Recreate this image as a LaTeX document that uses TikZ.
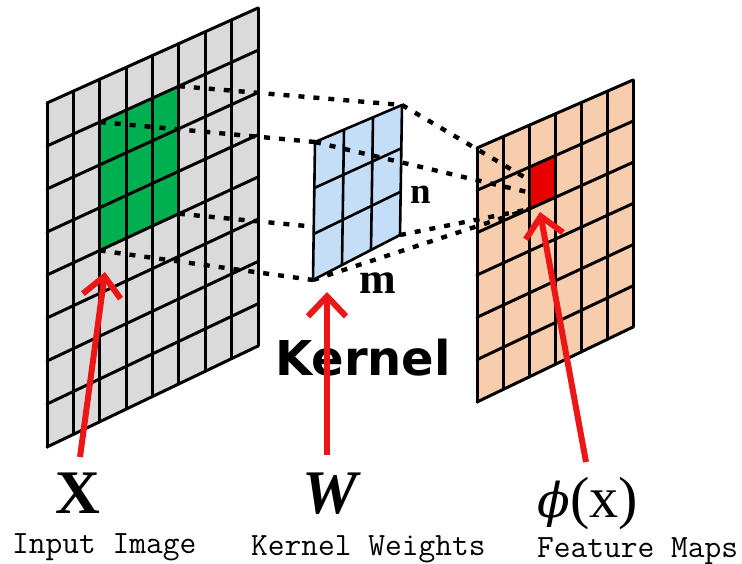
\documentclass[tikz,border=0pt]{standalone}
\usepackage{fontspec}
\usetikzlibrary{calc,arrows.meta}
\newfontfamily\kernelfont{DejaVu Sans}
\newfontfamily\serifbold{Liberation Serif}
\newfontfamily\phifont{DejaVu Serif}
\definecolor{ingray}{RGB}{218,218,218}
\definecolor{patchgreen}{RGB}{0,176,80}
\definecolor{kernblue}{RGB}{197,222,247}
\definecolor{featpeach}{RGB}{248,205,174}
\definecolor{cellred}{RGB}{232,0,0}
\definecolor{arrowred}{RGB}{236,22,22}
\newcommand\cellpt[5]{%
  \coordinate (#1a) at ($(#2TL)!#4!(#2BL)$);
  \coordinate (#1b) at ($(#2TR)!#4!(#2BR)$);
  \coordinate (#1) at ($(#1a)!#3!(#1b)$);}
\newcommand\gridlines[4]{%
  \foreach \i in {0,...,#2} \draw[gridline,line width=#4] ($(#1TL)!\i/#2!(#1TR)$) -- ($(#1BL)!\i/#2!(#1BR)$);
  \foreach \j in {0,...,#3} \draw[gridline,line width=#4] ($(#1TL)!\j/#3!(#1BL)$) -- ($(#1TR)!\j/#3!(#1BR)$);}
\tikzset{
  gridline/.style={draw=black,line cap=round},
  dotline/.style={draw=black,line width=4.4pt,dash pattern=on 6pt off 9pt},
  redarrow/.style={draw=arrowred,line width=6pt,-{Straight Barb[length=20pt,width=38pt]}},
  monolabel/.style={inner sep=0pt,font=\ttfamily\fontsize{32.5}{34}\selectfont},
}
\begin{document}
\begin{tikzpicture}[x=1pt,y=-1pt]
\useasboundingbox (0,0) rectangle (742,563);
\fill[white] (0,0) rectangle (742,563);
% corners
\coordinate (inTL) at (47,103);
\coordinate (inTR) at (258,8);
\coordinate (inBL) at (47,447);
\coordinate (inBR) at (258,346);
\coordinate (kTL) at (315,142);
\coordinate (kTR) at (402,105);
\coordinate (kBL) at (313,280);
\coordinate (kBR) at (400,235);
\coordinate (fTL) at (477,148);
\coordinate (fTR) at (633,80);
\coordinate (fBL) at (477,402);
\coordinate (fBR) at (633,327);
% patch corners
\cellpt{gTL}{in}{0.25}{0.125}{}
\cellpt{gTR}{in}{0.625}{0.125}{}
\cellpt{gBL}{in}{0.25}{0.5}{}
\cellpt{gBR}{in}{0.625}{0.5}{}
\cellpt{rTL}{f}{0.3333}{0.1667}{}
\cellpt{rTR}{f}{0.5}{0.1667}{}
\cellpt{rBL}{f}{0.3333}{0.3333}{}
\cellpt{rBR}{f}{0.5}{0.3333}{}
\coordinate (rE) at ($(rTL)!0.3!(rBL)$);
\coordinate (rF) at ($(rTL)!0.6!(rBL)$);
% input image
\fill[ingray] (inTL) -- (inTR) -- (inBR) -- (inBL) -- cycle;
\fill[patchgreen] (gTL) -- (gTR) -- (gBR) -- (gBL) -- cycle;
\gridlines{in}{8}{8}{3pt}
% feature map
\fill[featpeach] (fTL) -- (fTR) -- (fBR) -- (fBL) -- cycle;
\fill[cellred] (rTL) -- (rTR) -- (rBR) -- (rBL) -- cycle;
\gridlines{f}{6}{6}{3pt}
% dotted projections
\draw[dotline] (gTR) -- (kTR);
\draw[dotline] (gTL) -- (kTL);
\draw[dotline] (gBR) -- (kBR);
\draw[dotline] (gBL) -- (kBL);
\draw[dotline] (kTR) -- (rE);
\draw[dotline] (kBR) -- (rBL);
\draw[dotline] (kBL) -- (rBL);
% kernel
\fill[kernblue] (kTL) -- (kTR) -- (kBR) -- (kBL) -- cycle;
\gridlines{k}{3}{3}{2.6pt}
\draw[dotline] (kTL) -- (rF);
% texts
\node[inner sep=0pt,anchor=base,font=\serifbold\bfseries\fontsize{37}{40}\selectfont] (nlab) at (421,203) {n};
\node[inner sep=0pt,anchor=base,font=\serifbold\bfseries\fontsize{44}{46}\selectfont] (mlab) at (378,293) {m};
\node[inner sep=0pt,anchor=base west,font=\kernelfont\bfseries\fontsize{48}{50}\selectfont] (kern) at (275,375) {Kernel};
\node[inner sep=0pt,anchor=base,font=\serifbold\bfseries\fontsize{62}{64}\selectfont] (xlab) at (78,513) {X};
\node[inner sep=0pt,anchor=base,font=\serifbold\bfseries\itshape\fontsize{62}{64}\selectfont] (wlab) at (330,513) {W};
\node[inner sep=0pt,anchor=base,font=\serifbold\fontsize{58}{60}\selectfont] (phlab) at (588,517) {{\phifont\itshape\fontsize{48}{50}\selectfont ϕ}(x)};
\node[monolabel,anchor=base west] (inlab) at (12,553) {Input Image};
\node[monolabel,anchor=base west] (kwlab) at (251,555) {Kernel Weights};
\node[monolabel,anchor=base west] (fmlab) at (537,557) {Feature Maps};
% arrows
\coordinate (a1s) at (80,457);
\coordinate (a1e) at (105,272);
\coordinate (a2s) at (327,455);
\coordinate (a2e) at (327,292);
\coordinate (a3s) at (586,462);
\coordinate (a3e) at (540,212);
\draw[redarrow] (a1s) -- (a1e);
\draw[redarrow] (a2s) -- (a2e);
\draw[redarrow] (a3s) -- (a3e);
\end{tikzpicture}
\end{document}
